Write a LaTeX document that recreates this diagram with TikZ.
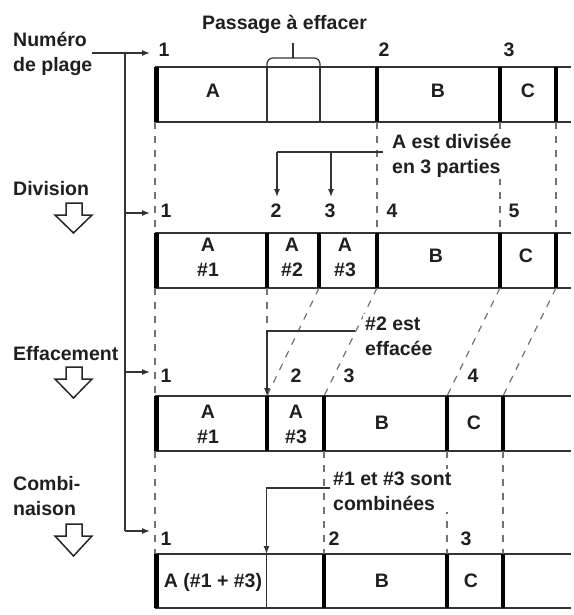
\documentclass[tikz,border=0pt]{standalone}
\usepackage{fontspec}
\setmainfont{Liberation Sans}
\usetikzlibrary{arrows.meta}
\begin{document}
\begin{tikzpicture}[x=1pt,y=-1pt,
  txt/.style={font=\bfseries\fontsize{19.5}{25}\selectfont, inner sep=0pt, text=black!88},
  note/.style={txt, align=left, fill=white, inner sep=2pt},
  track/.style={line width=1.2pt, draw=black!80},
  bar/.style={line width=4.8pt, draw=black},
  thinbar/.style={line width=1.2pt, draw=black!80},
  guide/.style={line width=1.2pt, draw=black!55, dash pattern=on 7pt off 7pt},
  conl/.style={line width=1.2pt, draw=black!80},
  conn/.style={conl, -{Latex[length=8pt,width=6pt]}},
  hollow/.style={line width=1.5pt, draw=black!85, fill=white, line join=miter}
]
\useasboundingbox (0,0) rectangle (573,615);

% ---------- tracks ----------
\foreach \t/\b in {67/122, 233/288, 396/451, 554/608}{
  \draw[track] (155,\t) -- (571,\t);
  \draw[track] (155,\b) -- (571,\b);
}
% track 1
\foreach \x in {156.5,377,500,556} \draw[bar] (\x,67) -- (\x,122);
\foreach \x in {267,320} \draw[thinbar] (\x,67) -- (\x,122);
% track 2
\foreach \x in {156.5,267,319,377,500,556} \draw[bar] (\x,233) -- (\x,288);
% track 3
\foreach \x in {156.5,267,324,447,503} \draw[bar] (\x,396) -- (\x,451);
% track 4
\foreach \x in {156.5,324,447,503} \draw[bar] (\x,554) -- (\x,608);
\draw[thinbar] (266.5,554) -- (266.5,608);

% ---------- named points ----------
\coordinate (a1) at (155,122);  \coordinate (a2) at (155,233);
\coordinate (b1) at (377,122);  \coordinate (b2) at (377,233);
\coordinate (c1) at (500,122);  \coordinate (c2) at (500,233);
\coordinate (d1) at (556,122);  \coordinate (d2) at (556,233);
\coordinate (e1) at (155,288);  \coordinate (e2) at (155,396);
\coordinate (f1) at (267,288);  \coordinate (f2) at (267,331);
\coordinate (g1) at (319,288);  \coordinate (g2) at (267,396);
\coordinate (h1) at (377,288);  \coordinate (h2) at (324,396);
\coordinate (i1) at (500,288);  \coordinate (i2) at (447,396);
\coordinate (j1) at (556,288);  \coordinate (j2) at (503,396);
\coordinate (k1) at (155,451);  \coordinate (k2) at (155,554);
\coordinate (l1) at (324,451);  \coordinate (l2) at (324,554);
\coordinate (m1) at (447,451);  \coordinate (m2) at (447,554);
\coordinate (n1) at (503,451);  \coordinate (n2) at (503,554);

% ---------- guides ----------
\foreach \p in {a,b,c,d,e,f,g,h,i,j,k,l,m,n} \draw[guide] (\p1) -- (\p2);

% ---------- left labels ----------
\node[txt, align=left, anchor=base west] (lplage) at (13,72) {Numéro\\de plage};
\node[txt, anchor=base west] (ldiv) at (13,195) {Division};
\node[txt, anchor=base west] (leff) at (13,360) {Effacement};
\node[txt, align=left, anchor=base west] (lcomb) at (13,515) {Combi-\\naison};

\draw[hollow] (66,203) -- (82,203) -- (82,215) -- (92,215) -- (73.5,233) -- (55,215) -- (66,215) -- cycle;
\draw[hollow] (66,367) -- (82,367) -- (82,379) -- (92,379) -- (73.5,398) -- (55,379) -- (66,379) -- cycle;
\draw[hollow] (66,524) -- (82,524) -- (82,536) -- (92,536) -- (73.5,556) -- (55,536) -- (66,536) -- cycle;

% trunk with arrows
\coordinate (tstart) at (92,53);
\coordinate (ttop) at (125,53);
\coordinate (tbot) at (125,531);
\coordinate (r1) at (150,53);
\coordinate (r2) at (150,213);
\coordinate (r3) at (150,372);
\coordinate (r4) at (150,531);
\draw[conn] (tstart) -- (r1);
\draw[conl] (ttop) -- (tbot);
\draw[conn] (125,213) -- (r2);
\draw[conn] (125,372) -- (r3);
\draw[conn] (tbot) -- (r4);

% ---------- track 1 ----------
\node[txt, anchor=base] (pass) at (284.5,30) {Passage à effacer};
\draw[conl, rounded corners=6pt] (267,67) -- (267,58) -- (320,58) -- (320,67);
\draw[conl] (293,58) -- (293,43);
\node[txt, anchor=base] (n11) at (164,57) {1};
\node[txt, anchor=base] (n12) at (384,57) {2};
\node[txt, anchor=base] (n13) at (509,57) {3};
\node[txt, anchor=base] (t1a) at (213,98) {A};
\node[txt, anchor=base] (t1b) at (438,98) {B};
\node[txt, anchor=base] (t1c) at (528,98) {C};

% annotation 1
\node[note, anchor=base west] (ann1) at (390,173) {A est divisée\\en 3 parties};
\coordinate (an1s) at (383,152);
\coordinate (an1a) at (277,152);
\coordinate (an1b) at (331,152);
\coordinate (an1at) at (277,197);
\coordinate (an1bt) at (331,197);
\draw[conl] (an1s) -- (an1a);
\draw[conn] (an1a) -- (an1at);
\draw[conn] (an1b) -- (an1bt);

% ---------- track 2 ----------
\node[txt, anchor=base] (n21) at (166,217) {1};
\node[txt, anchor=base] (n22) at (276,217) {2};
\node[txt, anchor=base] (n23) at (330,217) {3};
\node[txt, anchor=base] (n24) at (392,217) {4};
\node[txt, anchor=base] (n25) at (514,217) {5};
\node[txt, align=center, anchor=north] (t2a1) at (208,238) {A\\\#1};
\node[txt, align=center, anchor=north] (t2a2) at (292,238) {A\\\#2};
\node[txt, align=center, anchor=north] (t2a3) at (345,238) {A\\\#3};
\node[txt, anchor=base] (t2b) at (436,262) {B};
\node[txt, anchor=base] (t2c) at (526,262) {C};

% annotation 2
\node[note, anchor=base west] (ann2) at (363,355) {\#2 est\\effacée};
\coordinate (an2s) at (355,331);
\coordinate (an2t) at (267,396);
\draw[conn] (an2s) -- (f2) -- (an2t);

% ---------- track 3 ----------
\node[txt, anchor=base] (n31) at (166,382) {1};
\node[txt, anchor=base] (n32) at (296,382) {2};
\node[txt, anchor=base] (n33) at (349,382) {3};
\node[txt, anchor=base] (n34) at (473,382) {4};
\node[txt, align=center, anchor=north] (t3a1) at (208,405) {A\\\#1};
\node[txt, align=center, anchor=north] (t3a3) at (296,405) {A\\\#3};
\node[txt, anchor=base] (t3b) at (382,429) {B};
\node[txt, anchor=base] (t3c) at (474,429) {C};

% annotation 3
\node[note, anchor=base west] (ann3) at (331,510) {\#1 et \#3 sont\\combinées};
\coordinate (an3s) at (330,488);
\coordinate (an3c) at (266.5,488);
\coordinate (an3t) at (266.5,554);
\draw[conn] (an3s) -- (an3c) -- (an3t);

% ---------- track 4 ----------
\node[txt, anchor=base] (n41) at (166,545) {1};
\node[txt, anchor=base] (n42) at (334,545) {2};
\node[txt, anchor=base] (n43) at (466,545) {3};
\node[txt, anchor=base] (t4a) at (213,587) {A (\#1 + \#3)};
\node[txt, anchor=base] (t4b) at (382,587) {B};
\node[txt, anchor=base] (t4c) at (471,587) {C};
\end{tikzpicture}
\end{document}
